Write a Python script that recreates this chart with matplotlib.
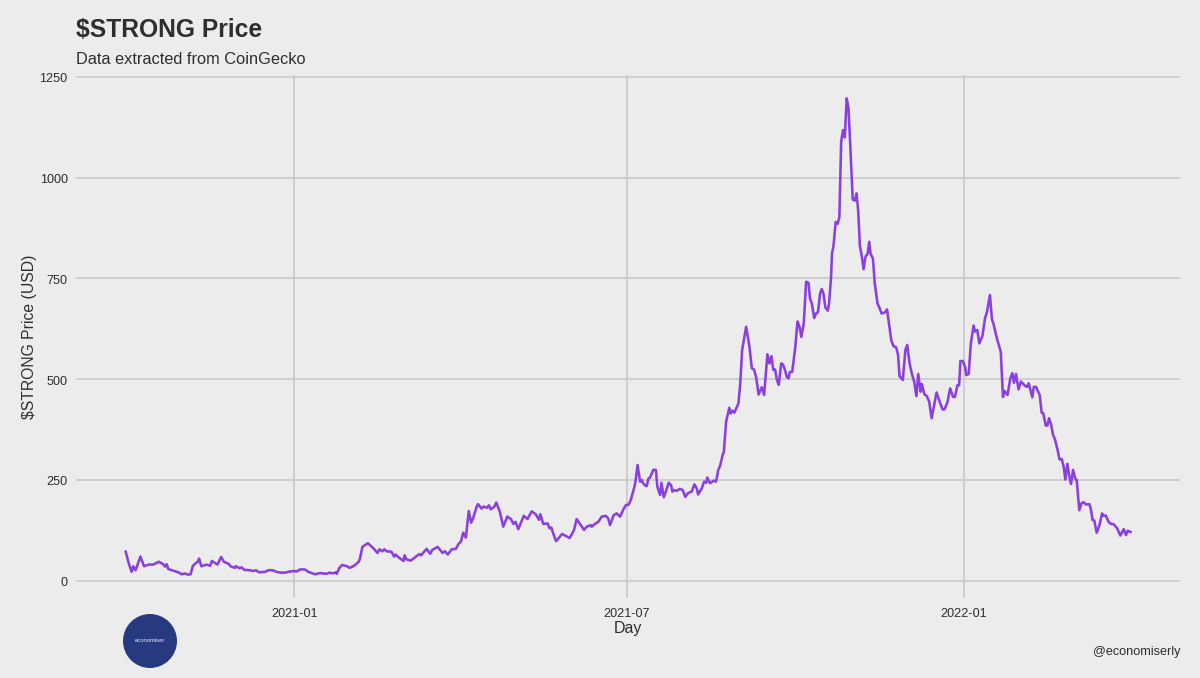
import matplotlib
matplotlib.use("Agg")
import matplotlib.pyplot as plt
import matplotlib.dates as mdates
import matplotlib.transforms as mtrans
import numpy as np
from matplotlib.patches import Ellipse

plt.rcParams['font.family'] = ['Liberation Sans', 'DejaVu Sans']

title = "$STRONG Price"
subtitle = "Data extracted from CoinGecko"
xlabel = "Day"
ylabel = "$STRONG Price (USD)"
caption = "@economiserly"
logo_text = "economiser"
base_date = "2021-01-01"
x_ticks = ["2021-01-01", "2021-07-01", "2022-01-01"]
y_ticks = [0, 250, 500, 750, 1000, 1250]

# days since base_date
days = [-92,-90.6,-88.8,-87.9,-86.6,-85,-84,-82,-79.5,-77,-74,-71.6,-70.6,-69.7,-68.8,-66,-63.4,-61.5,-59.7,-58,-56.6,-55.5,-54,-52.8,-52,-50.8,-48,-46,-45,-42,-40,-38.5,-36,-34.6,-32.4,-32,-30,-28.8,-27.4,-24.3,-22.5,-21,-19.4,-16,-14.3,-12,-9.7,-7.5,-4.8,-3.4,-0.6,1.2,3,5.7,7.5,11.2,14,17.5,19,21,22.5,23,24.5,26,28.5,30,32.5,35,35.7,37,38,40,42.7,45.2,46.3,48,49,50.3,52.8,54.3,55,57,59.4,60,61,63.4,65.7,68,69,72,74,75,78,80.7,82,83.6,85.7,88,89.4,90.7,92,93.4,95,96.3,97.5,99.4,100,102,103,105,106,107,109,110,112,113.8,116,118,119.3,120.5,122,125,127,129.3,131.5,133.3,134,135.6,138,139,140,141,142.6,145.9,150,152.4,153.8,156,157.8,159.3,161.5,162,163.8,165.6,167.5,169.6,171,172,174,175.6,177.5,179.3,180.7,182,183.3,185.3,186,187,188.4,189.3,190,191.5,192,193,193.8,195.6,197,197.8,199.3,200,201.3,202.4,204,205.3,206,207,208.4,210,211.6,213,214.4,216.5,218,219.3,220,222,223.3,224.4,225,226.5,228.4,229.8,231,232,233.5,234,235.3,237,237.8,238.7,239.8,242,243,244,246.2,248,249.3,250.5,251.6,253,254.7,256,257.8,258.9,260,261,262,263,264,265.3,266.2,267.4,268.3,269.3,270,271.3,272.9,274.2,275.3,276.3,277.6,278.9,280.2,281,282,283.3,284.3,285.4,286.5,287.4,288.3,289.4,290.7,291.4,292.5,293,293.8,295,296,297,298,299,300,301,302,303,304.3,305.4,306.4,307.3,308.2,309.3,310.2,311.3,312.4,313.3,314,315.3,316.3,317.8,319,320,322,323,324.3,325.3,326.5,328,329,329.8,331.6,333,334,335.3,336.5,337.8,339,340,341.3,342,343.3,344.7,346,347.3,348.7,350,352,353.3,354.3,356,357.4,359,360,361.4,362.3,363,364.4,365.6,366.2,367.5,368.7,370.2,371,372.2,373.3,375,376.4,377.5,379.1,380.2,381,383,385,386.2,387,388.7,390.2,391.3,392.2,393.3,394.7,396,398.4,399.3,400.2,402.2,403,404.2,406.2,407.3,408.2,409.5,410.4,411.3,412.4,413.5,414.4,416,417,418.2,419.3,420.2,421.3,422.4,423.3,424.4,425.7,426.4,427.8,429,430.2,431.5,433.3,434.2,435,436,437.3,438.8,440.2,441,442.2,443.8,445,446.6,448.4,450.2,452,453.3,454.2,455.7]
price = [72,47,22,36,26,47,60,36,40,40,47,41,35,41,29,25,21,16,18,15,16,36,43,47,55,36,40,37,49,40,59,47,42,35,32,36,31,33,27,26,24,26,21,22,26,26,22,20,20,22,24,23,28,28,22,16,19,17,20,18,21,17,32,39,36,32,37,47,55,84,87,93,82,69,78,73,78,73,72,60,65,57,49,63,53,50,58,66,63,79,67,76,84,69,73,65,78,79,91,97,119,107,173,144,157,185,190,179,184,181,187,177,184,194,170,134,159,153,141,146,128,161,153,172,165,151,165,141,142,130,132,118,98,116,106,126,153,138,126,134,138,134,141,146,159,161,155,138,163,167,159,177,188,188,200,233,250,287,246,250,242,235,235,254,256,275,275,233,213,243,207,221,243,237,221,225,223,228,225,208,217,221,239,229,214,229,246,243,256,242,248,246,275,285,314,318,395,429,415,422,417,440,490,572,630,581,527,524,506,462,480,461,562,539,557,523,524,498,486,539,537,523,506,502,518,518,576,643,630,605,638,742,739,700,688,652,663,667,713,724,713,678,670,688,754,812,830,890,885,901,1089,1118,1100,1197,1172,1077,946,943,961,916,831,804,773,804,811,841,811,800,738,688,676,663,666,673,630,597,582,579,560,508,498,572,585,539,514,494,458,513,469,488,463,458,444,403,436,467,440,425,425,444,477,456,456,485,485,545,545,529,510,513,589,633,618,622,589,607,651,667,709,648,638,599,568,456,471,461,502,515,491,513,475,494,483,481,490,455,481,481,461,417,415,385,385,403,389,361,353,324,301,302,283,251,290,258,240,275,252,250,175,192,195,189,190,175,151,149,119,138,167,161,162,146,141,140,130,112,128,113,124,121]

BG = "#ECECEC"
GRID = "#C9C9C9"
LINE = "#8A3FDF"
TEXT = "#2E2E2E"

W, H = 1200, 678
fig = plt.figure(figsize=(W / 100, H / 100), dpi=100, facecolor=BG)
ax = fig.add_axes([76 / W, 1 - 598 / H, (1180 - 76) / W, (598 - 75) / H], facecolor=BG)

base = mdates.date2num(np.datetime64(base_date))
ax.plot(base + np.array(days), price, color=LINE, lw=1.85, solid_joinstyle="round", zorder=3)

ax.set_xlim(base - 119.1, base + 482.7)
ax.set_ylim(-42.9, 1254.8)
ax.set_xticks([mdates.date2num(np.datetime64(d)) for d in x_ticks])
ax.xaxis.set_major_formatter(mdates.DateFormatter("%Y-%m"))
ax.set_yticks(y_ticks)
ax.grid(True, color=GRID, lw=1.2, zorder=0)
ax.set_axisbelow(True)
for s in ax.spines.values():
    s.set_visible(False)
ax.tick_params(length=0, labelsize=9.1, labelcolor=TEXT, pad=7.5)
ax.tick_params(axis="y", pad=6)
shift = mtrans.ScaledTranslation(0, -1 / 100, fig.dpi_scale_trans)
for lab in ax.get_yticklabels():
    lab.set_transform(lab.get_transform() + shift)

fig.text(628 / W, 1 - 629 / H, xlabel, ha="center", va="center", fontsize=11.5, color=TEXT)
fig.text(30 / W, 1 - 337 / H, ylabel, ha="center", va="center", rotation=90, fontsize=11.3, color=TEXT)
fig.text(76 / W, 1 - 30 / H, title, ha="left", va="center", fontsize=17.7, fontweight="bold", color=TEXT)
fig.text(76 / W, 1 - 59 / H, subtitle, ha="left", va="center", fontsize=11.8, color=TEXT)
fig.text(1180 / W, 1 - 652 / H, caption, ha="right", va="center", fontsize=9.1, color=TEXT)

fig.add_artist(Ellipse((150 / W, 1 - 641 / H), 54 / W, 54 / H, transform=fig.transFigure,
                       facecolor="#273A80", edgecolor="none"))
fig.text(150 / W, 1 - 640 / H, logo_text, ha="center", va="center", fontsize=4.2, color="#E6E8F2")

fig.savefig("out.png", dpi=100, facecolor=BG)
